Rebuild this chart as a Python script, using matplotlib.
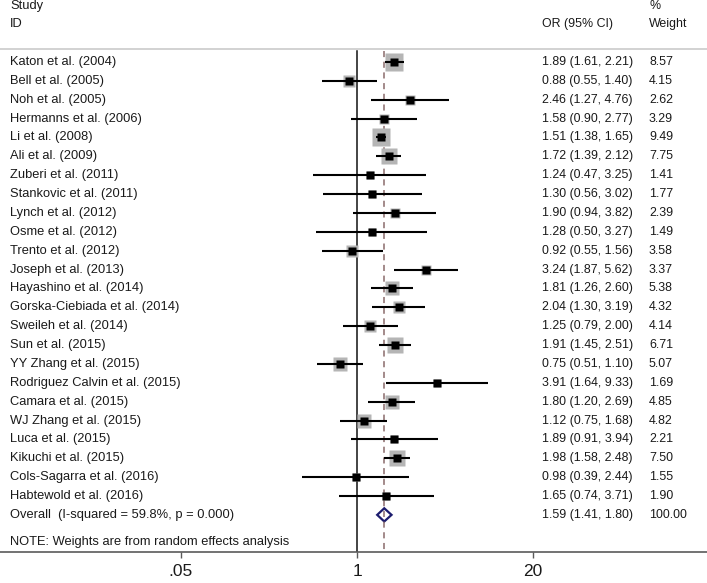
import matplotlib
matplotlib.use("Agg")
import matplotlib.pyplot as plt
import matplotlib.transforms as mtransforms
from matplotlib.patches import Polygon

plt.rcParams["font.family"] = ["Liberation Sans", "DejaVu Sans"]

# ---- Data -------------------------------------------------------------
studies = [
    "Katon et al. (2004)", "Bell et al. (2005)", "Noh et al. (2005)",
    "Hermanns et al. (2006)", "Li et al. (2008)", "Ali et al. (2009)",
    "Zuberi et al. (2011)", "Stankovic et al. (2011)", "Lynch et al. (2012)",
    "Osme et al. (2012)", "Trento et al. (2012)", "Joseph et al. (2013)",
    "Hayashino et al. (2014)", "Gorska-Ciebiada et al. (2014)",
    "Sweileh et al. (2014)", "Sun et al. (2015)", "YY Zhang et al. (2015)",
    "Rodriguez Calvin et al. (2015)", "Camara et al. (2015)",
    "WJ Zhang et al. (2015)", "Luca et al. (2015)", "Kikuchi et al. (2015)",
    "Cols-Sagarra et al. (2016)", "Habtewold et al. (2016)",
]
odds = [1.89, 0.88, 2.46, 1.58, 1.51, 1.72, 1.24, 1.30, 1.90, 1.28, 0.92, 3.24,
        1.81, 2.04, 1.25, 1.91, 0.75, 3.91, 1.80, 1.12, 1.89, 1.98, 0.98, 1.65]
lower = [1.61, 0.55, 1.27, 0.90, 1.38, 1.39, 0.47, 0.56, 0.94, 0.50, 0.55, 1.87,
         1.26, 1.30, 0.79, 1.45, 0.51, 1.64, 1.20, 0.75, 0.91, 1.58, 0.39, 0.74]
upper = [2.21, 1.40, 4.76, 2.77, 1.65, 2.12, 3.25, 3.02, 3.82, 3.27, 1.56, 5.62,
         2.60, 3.19, 2.00, 2.51, 1.10, 9.33, 2.69, 1.68, 3.94, 2.48, 2.44, 3.71]
weights = [8.57, 4.15, 2.62, 3.29, 9.49, 7.75, 1.41, 1.77, 2.39, 1.49, 3.58, 3.37,
           5.38, 4.32, 4.14, 6.71, 5.07, 1.69, 4.85, 4.82, 2.21, 7.50, 1.55, 1.90]

overall_label = "Overall  (I-squared = 59.8%, p = 0.000)"
overall_or, overall_lo, overall_hi, overall_w = 1.59, 1.41, 1.80, 100.00
note = "NOTE: Weights are from random effects analysis"

tick_vals = [0.05, 1, 20]
tick_labels = [".05", "1", "20"]

# ---- Figure -----------------------------------------------------------
W, H, DPI = 707, 583, 100
fig = plt.figure(figsize=(W / DPI, H / DPI), dpi=DPI)
axis_px = 552
ax = fig.add_axes([0, (H - axis_px) / H, 1, axis_px / H])

row0, step = 62, 18.87          # pixel row of first study and row spacing
ax.set_xscale("log")
px_per_dec = 135.3
x_one = 357
ax.set_xlim(10 ** (-x_one / px_per_dec), 10 ** ((W - x_one) / px_per_dec))
ax.set_ylim((axis_px - row0) / step, -row0 / step)

for s in ["top", "left", "right"]:
    ax.spines[s].set_visible(False)
ax.spines["bottom"].set_color("#5a5a5a")
ax.spines["bottom"].set_linewidth(1.2)
ax.set_yticks([])
ax.set_xticks(tick_vals)
ax.set_xticklabels(tick_labels)
ax.minorticks_off()
ax.tick_params(axis="x", length=4, width=1, color="#5a5a5a",
               labelsize=12.5, labelcolor="#1a1a1a", pad=5)

tr = mtransforms.blended_transform_factory(ax.transAxes, ax.transData)
txt = dict(fontsize=9.3, color="#1a1a1a", va="center", transform=tr)
num = dict(txt, fontsize=8.9)

x_lab, x_or, x_w = 10 / W, 542 / W, 649 / W

# header
ax.text(x_lab, -2.97, "Study", **txt)
ax.text(x_lab, -2.02, "ID", **txt)
ax.text(x_or, -2.02, "OR (95% CI)", **num)
ax.text(x_w, -2.97, "%", **num)
ax.text(x_w, -2.02, "Weight", **num)
ax.plot([0, 1], [-0.69, -0.69], transform=tr, color="#cfcfcf", lw=1.3,
        clip_on=False)

# reference lines
y_top = -0.6
ax.plot([1, 1], [y_top, (axis_px - row0) / step], color="#111111", lw=1.1)
ax.plot([overall_or, overall_or], [y_top, (axis_px - row0) / step],
        color="#8a6b6b", lw=1.1, dashes=(4, 3))

# studies
for i, (name, o, lo, hi, w) in enumerate(zip(studies, odds, lower, upper, weights)):
    ax.plot(o, i, marker="s", ms=4.3 * w ** 0.5, color="#b5b5b5", mec="none")
    ax.plot([lo, hi], [i, i], color="black", lw=1.5, solid_capstyle="butt")
    ax.plot(o, i, marker="s", ms=6, color="black", mec="none")
    ax.text(x_lab, i, name, **txt)
    ax.text(x_or, i, f"{o:.2f} ({lo:.2f}, {hi:.2f})", **num)
    ax.text(x_w, i, f"{w:.2f}", **num)

# overall
yo = len(studies)
diamond = Polygon([[overall_lo, yo], [overall_or, yo - 0.35],
                   [overall_hi, yo], [overall_or, yo + 0.35]],
                  closed=True, facecolor="white", edgecolor="#1c1c6e", lw=1.6)
ax.add_patch(diamond)
ax.text(x_lab, yo, overall_label, **txt)
ax.text(x_or, yo, f"{overall_or:.2f} ({overall_lo:.2f}, {overall_hi:.2f})", **num)
ax.text(x_w, yo, f"{overall_w:.2f}", **num)

ax.text(x_lab, (542 - row0) / step, note, **txt)

fig.savefig("out.png", dpi=DPI)
